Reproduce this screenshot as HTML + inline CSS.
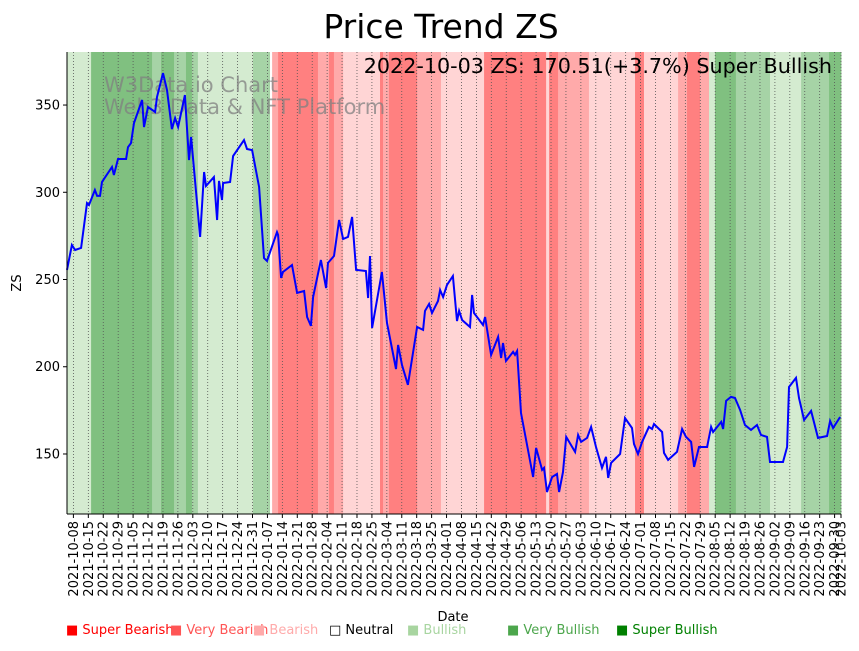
<!DOCTYPE html>
<html><head><meta charset="utf-8"><style>
body{margin:0;background:#fff;font-family:"Liberation Sans","DejaVu Sans",sans-serif}
svg text{font-family:"DejaVu Sans","Liberation Sans",sans-serif}
</style></head><body>
<svg id="chart" width="859" height="646" viewBox="0 0 859 646" xmlns="http://www.w3.org/2000/svg">
<text x="441" y="38" font-size="33" text-anchor="middle">Price Trend ZS</text>
<g id="bands"></g>
<g id="grid"></g>
<g fill="#808080" fill-opacity="0.75" font-size="21">
<text x="104" y="92">W3Data.io Chart</text><text x="104" y="114">Web3 Data &amp; NFT Platform</text></g>
<path id="line" fill="none" stroke="#0000ff" stroke-width="2"/>
<g id="axes"></g>
<text x="832" y="73" font-size="20.7" text-anchor="end">2022-10-03 ZS: 170.51(+3.7%) Super Bullish</text>
<text transform="translate(21,283) rotate(-90)" font-size="13" text-anchor="middle">ZS</text>
<text x="453" y="621" font-size="13" text-anchor="middle">Date</text>
<g font-size="13">
<text x="66" y="634" fill="#ff0000">■ Super Bearish</text>
<text x="170" y="634" fill="#ff5555">■ Very Bearish</text>
<text x="253" y="634" fill="#ffaaaa">■ Bearish</text>
<text x="329" y="634" fill="#000">□ Neutral</text>
<text x="407" y="634" fill="#a8d5a0">■ Bullish</text>
<text x="507" y="634" fill="#4ca64c">■ Very Bullish</text>
<text x="616" y="634" fill="#008000">■ Super Bullish</text>
</g>
</svg>
<script>
const days=[0,2.3,3.8,6.6,9.4,10.3,13.1,14.1,15.5,16.4,21.1,22,23.9,27.7,28.6,30,31.4,35.2,36.1,38,41.3,42.2,45,46.9,49.2,50.7,52.1,55.3,57.2,58.2,62.4,64.3,65.2,68.9,70.4,71.3,72.7,73.2,76.5,77.9,83,84.4,86.8,90.1,92.4,93.8,98.5,99,100.4,101.3,105.5,107.9,111.2,112.6,114.4,115.4,119.1,121.5,122.4,125.2,127.6,129.5,131.8,133.7,135.6,140.2,141.2,142.1,143.1,147.7,150.1,154.3,155.3,157.1,159.9,164.2,167,167.9,169.8,171.2,174,175,176.4,178.2,181,182.9,183.9,185.3,189,190,190.9,195.1,196.1,198.9,202.2,203.6,204.5,205.9,209.2,210.1,211.1,212.9,216.2,218.6,220,222.8,223.7,225.1,227.5,229.8,230.8,232.6,234.1,238.3,239.7,241.1,243.9,245.8,248.1,250.9,252.8,253.8,255.2,259.4,261.7,265,265.9,267.8,269.7,272.9,274.4,275.3,279.1,280,281.9,286.1,288.5,290.3,292.7,294.1,296.4,300.2,302.1,303,306.8,307.7,309.1,311.4,313.3,315.7,318,320.8,323.6,325.5,328.3,329.7,335.8,337.7,338.6,341.9,343.3,345.7,349,352.2,356.5,357.9,359.3,362.6];
const prices=[255.5,269.8,266.9,268.1,293.8,292.7,301.3,297.9,297.9,305.9,314.5,309.9,319.1,319.1,325.9,328.2,339.7,352.9,337.4,348.9,346,354.6,368.3,358.6,336.2,342.6,337.4,355.7,318.5,331.7,274.4,311.6,303.6,308.7,284.1,306.5,295.6,305.3,305.9,320.8,329.9,324.8,324.2,303,262.3,260.6,277.2,275.5,250.9,254.3,258.3,242.3,243.4,228.5,223.4,240,261.2,245.1,259.5,263.5,284.1,273.2,274.4,285.8,255.5,254.9,239.4,263.5,222.2,254.3,225.1,198.7,212.5,201,189.6,222.8,221.1,232,236,230.8,237.7,244,240,246.9,252,226.2,232,226.8,222.8,241.1,230.8,223.9,228.5,206.8,217.1,205,213.6,203.3,208.5,206.8,209,173.5,152.3,136.8,153.5,140.9,142,128.2,136.8,138.6,128.2,139.7,159.8,151.2,160.9,156.9,159.2,165.5,154,142,148.3,136.3,144.9,150,170.6,164.9,155.7,150,156.9,165.5,164.3,167.2,162.6,150.6,146.6,151.2,164.3,159.8,156.9,142.6,154,154,165.5,162.6,168.4,164.3,180.4,182.7,182.1,175.2,166.6,163.8,166.6,160.9,159.8,145.4,145.4,154,188.4,193.6,182.1,169.5,174.7,159.2,160.3,168.9,164.9,171.2];
const bandStart=[0,11.3,39.9,44.1,50.2,55.8,58.6,61.4,87.2,95.2,96.2,99,117.7,122.9,125.2,129.5,146.8,148.2,151,164.2,175.4,195.6,224.7,226.1,230.3,244.8,266.4,270.6,286.6,290.8,296.9,301.1,303.9,313.7,329.7,344.3,357.4];
const bandEnd=[11.3,39.9,44.1,50.2,55.8,58.6,61.4,87.2,95.2,96.2,99,117.7,122.9,125.2,129.5,146.8,148.2,151,164.2,175.4,195.6,224.7,226.1,230.3,244.8,266.4,270.6,286.6,290.8,296.9,301.1,303.9,313.7,329.7,344.3,357.4,363];
const bandLevel=[1,3,2,3,2,3,2,1,2,0,-2,-3,-2,-3,-2,-1,-3,-2,-3,-2,-1,-3,-1,-3,-2,-1,-3,-1,-2,-3,-2,1,3,2,1,2,3];
const yTicks=[150,200,250,300,350];
const startDate=Date.UTC(2021,9,5);
const NS='http://www.w3.org/2000/svg';
const L=67,R=841,T=52,B=514,D0=0,D1=363,V0=115.6,V1=380.4;
function xs(d){return L+(d-D0)/(D1-D0)*(R-L);}
function ys(v){return B-(v-V0)/(V1-V0)*(B-T);}
function mk(t,a){const e=document.createElementNS(NS,t);for(const k in a)e.setAttribute(k,a[k]);return e;}
const colors={'-3':'#ff8080','-2':'#ffaaaa','-1':'#ffd5d5','0':'#ffffff','1':'#d4ebd0','2':'#a6d3a6','3':'#80c080'};
const bg=document.getElementById('bands');
for(let i=0;i<bandStart.length;i++){
 const r=mk('rect',{x:xs(bandStart[i]),y:T,width:Math.max(0,xs(bandEnd[i])-xs(bandStart[i])+0.4),height:B-T,fill:colors[bandLevel[i]]});
 
 
 bg.appendChild(r);
}
const grid=document.getElementById('grid'),ax=document.getElementById('axes');
const tickDays=[];for(let d=3;d<=360;d+=7)tickDays.push(d);tickDays.push(363);
tickDays.forEach(d=>{
 const x=xs(d);
 const g=mk('line',{x1:x,x2:x,y1:T,y2:B,stroke:'#555','stroke-width':0.8,'stroke-dasharray':'1,2'});
 
 
 grid.appendChild(g);
 ax.appendChild(mk('line',{x1:x,x2:x,y1:B,y2:B+4,stroke:'#000'}));
 const dt=new Date(startDate+d*86400000).toISOString().slice(0,10);
 const t=mk('text',{transform:`translate(${x+4.5},${B+7}) rotate(-90)`,'font-size':13,'text-anchor':'end'});
 
 
 t.textContent=dt;ax.appendChild(t);
});
yTicks.forEach(v=>{
 const y=ys(v);
 ax.appendChild(mk('line',{x1:L-4,x2:L,y1:y,y2:y,stroke:'#000'}));
 const t=mk('text',{x:L-7,y:y+4.5,'font-size':13,'text-anchor':'end'});
 
 
 t.textContent=v;ax.appendChild(t);
});
ax.appendChild(mk('line',{x1:L,x2:L,y1:T,y2:B,stroke:'#000','stroke-width':1}));
ax.appendChild(mk('line',{x1:L,x2:R,y1:B,y2:B,stroke:'#000','stroke-width':1}));
let p='';for(let i=0;i<days.length;i++)p+=(i?'L':'M')+xs(days[i]).toFixed(1)+','+ys(prices[i]).toFixed(1);
document.getElementById('line').setAttribute('d',p);
</script>
</body></html>
